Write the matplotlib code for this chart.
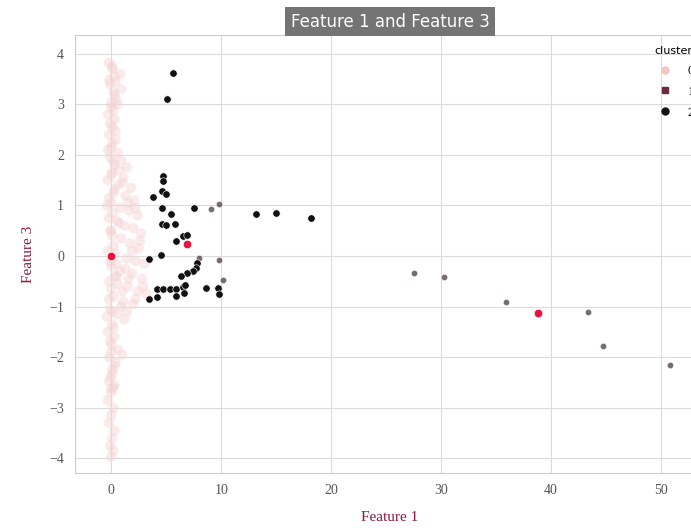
import numpy as np
import matplotlib.pyplot as plt
from matplotlib.lines import Line2D

# cluster 0 (light pink band near x = 0)
c0_x = [-0.2, 0.1, 0.3, -0.1, 0.2, 0.4, 0.0, -0.3, 0.3, 0.1, -0.2, 0.4, 0.0, 0.6, -0.1, 0.9,
        0.3, 1.4, 0.1, 1.1, -0.3, 0.6, 1.8, 0.2, 1.3, 2.1, 0.0, 0.8, 1.6, 2.4, -0.2, 0.5,
        1.2, 2.0, 2.7, 0.1, 0.9, 1.7, 2.5, -0.3, 0.4, 1.4, 2.2, 3.0, 0.0, 0.8, 1.9, 2.8,
        -0.2, 0.6, 1.5, 2.4, 3.2, 0.2, 1.1, 2.0, 0.9, -0.1, 0.5, 1.2, 0.1, -0.3, 0.3, 0.0,
        0.6, 1.0, -0.2, 0.4, 0.1, -0.1, 0.3, 0.0, -0.3, 0.2, 0.0, -0.2, 0.3, 0.1, -0.1, 0.2,
        0.0, 0.8, 0.9, 0.6, -0.4, 0.5, -0.4, 0.2, -0.1, 0.4,
        0.1, -0.2, 0.3, 0.0, 0.2, -0.1, 0.4, 0.1, -0.3, 0.2, 0.0, 0.3, -0.2, 0.1,
        0.0, 0.2, -0.1, 0.3, 0.0, -0.2, 0.1, 0.2, -0.1, 0.0, 0.3, 0.1, -0.2, 0.0,
        1.0, 1.5, 2.2, 0.7, 1.9, 2.6, 1.3, 0.5, 1.6, 2.9, 1.0, 2.2, 1.4, 0.7]
c0_y = [3.82, 3.7, 3.55, 3.4, 3.25, 3.1, 2.95, 2.8, 2.7, 2.55, 2.4, 2.3, 2.15, 2.05, 1.95, 1.9,
        1.8, 1.75, 1.65, 1.55, 1.5, 1.4, 1.35, 1.25, 1.2, 1.1, 1.05, 0.95, 0.9, 0.8, 0.75, 0.7,
        0.6, 0.55, 0.45, 0.4, 0.35, 0.25, 0.15, 0.1, 0.05, -0.05, -0.1, -0.15, -0.2, -0.3, -0.35, -0.45,
        -0.5, -0.55, -0.6, -0.7, -0.75, -0.8, -0.9, -0.95, -1.0, -1.05, -1.15, -1.25, -1.35, -1.5, -1.6, -1.75,
        -1.85, -1.95, -2.0, -2.1, -2.25, -2.4, -2.55, -2.7, -2.85, -3.0, -3.15, -3.3, -3.45, -3.6, -3.75, -3.85,
        -3.97, 3.6, 3.3, 3.0, 1.0, -0.4, -1.2, -2.6, 0.5, 3.45,
        3.75, 3.48, 3.18, 3.03, 2.87, 2.62, 2.47, 2.23, 2.1, 1.87, 1.6, 1.32, 1.15, 0.85,
        0.5, 0.2, -0.1, -0.4, -0.65, -0.85, -1.1, -1.42, -1.68, -1.9, -2.18, -2.33, -2.48, -2.63,
        1.45, 1.05, 0.95, 0.65, 0.1, 0.3, -0.25, -0.15, -0.45, -0.6, -0.7, -0.85, -1.1, 1.7]

# cluster 1 (grey points)
c1_x = [9.1, 9.8, 8.0, 9.8, 10.2, 27.5, 30.3, 35.9, 43.4, 44.7, 50.8]
c1_y = [0.93, 1.03, -0.03, -0.08, -0.48, -0.34, -0.41, -0.91, -1.11, -1.78, -2.16]

# cluster 2 (black points)
c2_x = [5.6, 5.1, 4.7, 4.7, 4.6, 3.8, 5.0, 4.6, 7.5, 5.4, 13.2, 15.0, 18.2, 4.6, 5.0, 5.8,
        6.5, 6.9, 5.9, 4.5, 3.4, 7.8, 7.7, 7.4, 6.9, 6.3, 4.2, 4.7, 5.3, 5.9, 6.5, 6.7,
        8.6, 9.7, 9.8, 5.9, 3.4, 4.2, 6.6]
c2_y = [3.62, 3.1, 1.58, 1.48, 1.29, 1.17, 1.22, 0.95, 0.95, 0.83, 0.83, 0.85, 0.75, 0.63, 0.61, 0.63,
        0.40, 0.41, 0.30, 0.02, -0.06, -0.14, -0.23, -0.30, -0.34, -0.40, -0.65, -0.65, -0.65, -0.65, -0.62, -0.58,
        -0.63, -0.63, -0.75, -0.79, -0.85, -0.81, -0.73]

# centroids
cen_x = [0.0, 6.9, 38.8]
cen_y = [0.0, 0.24, -1.13]

serif = ['Liberation Serif', 'DejaVu Serif']
label_color = '#8b1a3d'

fig = plt.figure(figsize=(6.91, 5.28), dpi=100)
ax = fig.add_axes([75 / 691, 55 / 528, 630 / 691, 438 / 528])

ax.scatter(c0_x, c0_y, s=55, color='#f4d2d2', alpha=0.45, edgecolor='none', zorder=2)
ax.scatter(c1_x, c1_y, s=20, color='#4a3c42', alpha=0.75, edgecolor='white', linewidth=0.4, zorder=3)
ax.scatter(c2_x, c2_y, s=28, color='#111111', edgecolor='white', linewidth=0.4, zorder=3)
ax.scatter(cen_x, cen_y, s=36, color='#e8123c', edgecolor='white', linewidth=0.4, zorder=4)

ax.set_xlim(-3.3, 54)
ax.set_ylim(-4.29, 4.37)
ax.set_xticks([0, 10, 20, 30, 40, 50])
ax.set_yticks([-4, -3, -2, -1, 0, 1, 2, 3, 4])
ax.grid(True, color='#dcdcdc', linewidth=0.8)
ax.set_axisbelow(True)
for s in ax.spines.values():
    s.set_color('#cccccc')
ax.tick_params(length=0, pad=8, labelcolor='#555555', labelsize=10)
for t in ax.get_xticklabels() + ax.get_yticklabels():
    t.set_family(serif)

ax.set_xlabel('Feature 1', color=label_color, fontsize=11, family=serif, labelpad=10)
ax.set_ylabel('Feature 3', color=label_color, fontsize=11, family=serif, labelpad=10)
ax.set_title('Feature 1 and Feature 3', color='white', fontsize=12, pad=6,
             bbox=dict(facecolor='#747474', edgecolor='none', pad=4))

handles = [Line2D([], [], marker='o', ls='', color='#f2c4c4', markersize=5),
           Line2D([], [], marker='s', ls='', color='#6e2a3c', markersize=5),
           Line2D([], [], marker='o', ls='', color='#111111', markersize=5)]
leg = ax.legend(handles, ['0', '1', '2'], title='cluster', loc='upper right', frameon=False,
                prop={'family': serif, 'size': 9}, title_fontsize=8, labelspacing=0.7)

plt.savefig('out.png', dpi=100)
